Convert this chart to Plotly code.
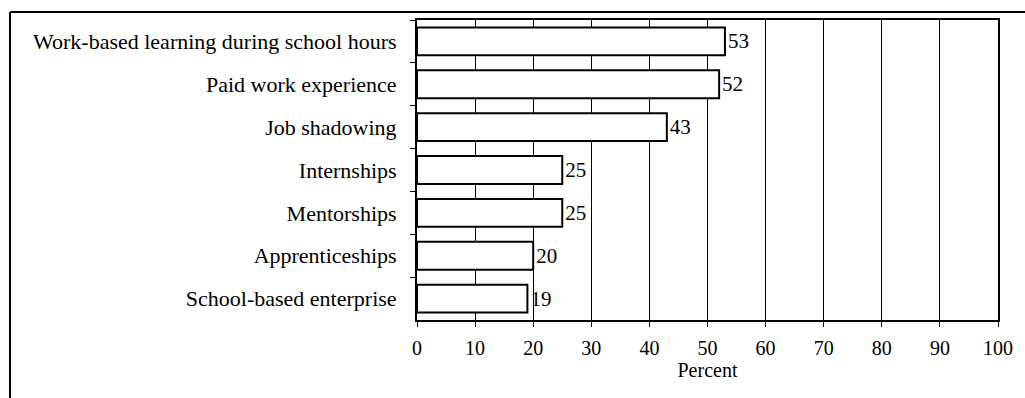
import plotly.graph_objects as go

categories = [
    "Work-based learning during school hours",
    "Paid work experience",
    "Job shadowing",
    "Internships",
    "Mentorships",
    "Apprenticeships",
    "School-based enterprise",
]
values = [53, 52, 43, 25, 25, 20, 19]
x_ticks = [0, 10, 20, 30, 40, 50, 60, 70, 80, 90, 100]

W, H = 1025, 398
L, R, T, B = 417, 998, 20, 320  # plot area in pixels

font_family = "Liberation Serif, Times New Roman, serif"

fig = go.Figure(
    go.Bar(
        x=values,
        y=categories,
        orientation="h",
        marker=dict(color="white", line=dict(color="black", width=2)),
        text=[str(v) for v in values],
        textposition="outside",
        cliponaxis=False,
        textfont=dict(family=font_family, size=21, color="black"),
    )
)

pw = R - L
ph = B - T


def px_x(p):
    return (p - L) / pw


def px_y(p):
    return (B - p) / ph


fig.update_layout(
    width=W,
    height=H,
    margin=dict(l=L, r=W - R, t=T, b=H - B, pad=0),
    paper_bgcolor="white",
    plot_bgcolor="white",
    showlegend=False,
    bargap=0.35,
    font=dict(family=font_family, size=20, color="black"),
    xaxis=dict(
        range=[0, 100],
        tickvals=x_ticks,
        ticktext=[str(t) for t in x_ticks],
        showgrid=True,
        gridcolor="black",
        gridwidth=1,
        zeroline=False,
        showline=True,
        linecolor="black",
        linewidth=2,
        mirror=True,
        ticks="outside",
        ticklen=5,
        tickcolor="black",
        ticklabelstandoff=4,
        tickfont=dict(family=font_family, size=20, color="black"),
        title=dict(text="Percent", standoff=4,
                   font=dict(family=font_family, size=20, color="black")),
        fixedrange=True,
    ),
    yaxis=dict(
        type="category",
        autorange="reversed",
        tickson="boundaries",
        ticks="outside",
        ticklen=5,
        tickcolor="black",
        showgrid=False,
        showline=True,
        linecolor="black",
        linewidth=2,
        mirror=True,
        ticklabelstandoff=14,
        tickfont=dict(family=font_family, size=22, color="black"),
        fixedrange=True,
    ),
    shapes=[
        dict(type="line", xref="paper", yref="paper",
             x0=px_x(10), x1=px_x(1025), y0=px_y(12), y1=px_y(12),
             line=dict(color="black", width=2)),
        dict(type="line", xref="paper", yref="paper",
             x0=px_x(10), x1=px_x(10), y0=px_y(12), y1=px_y(398),
             line=dict(color="black", width=2)),
    ],
)

fig.write_html("out.html")
